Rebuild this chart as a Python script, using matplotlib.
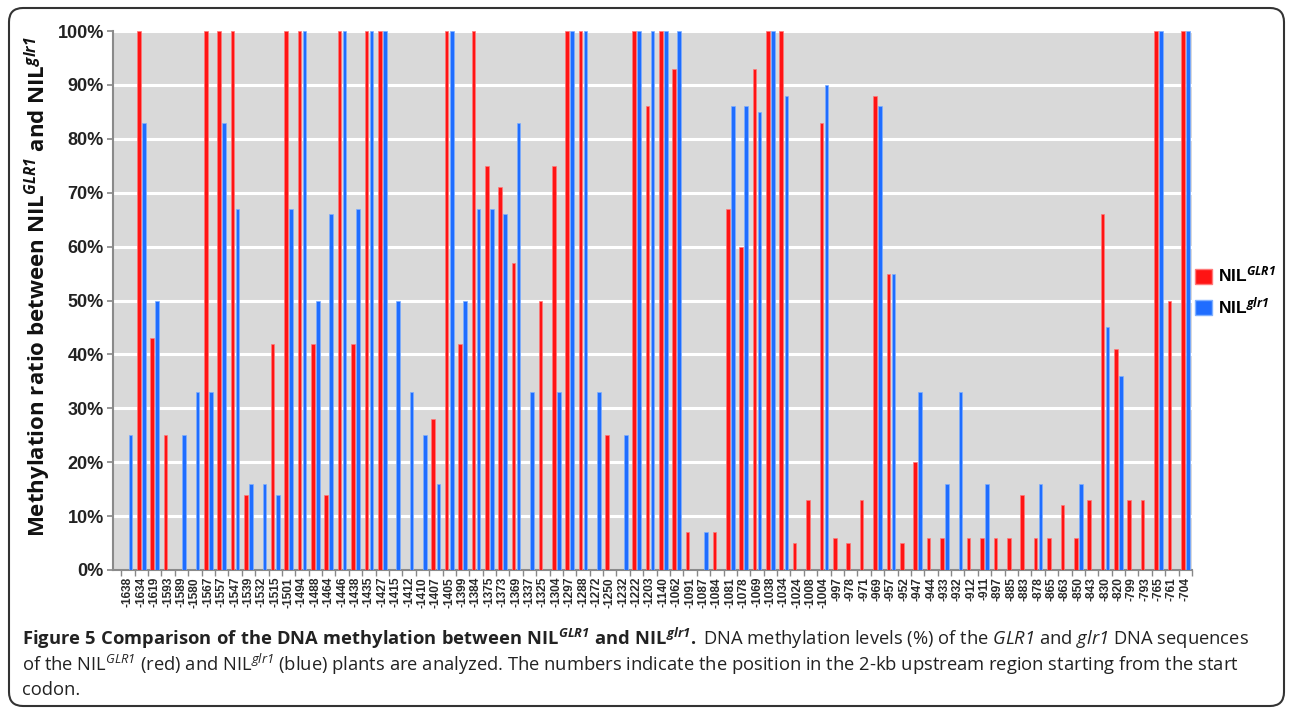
import numpy as np
import matplotlib
matplotlib.use("Agg")
import matplotlib.pyplot as plt
from matplotlib.patches import FancyBboxPatch, Patch
from matplotlib.transforms import IdentityTransform

positions = [-1638, -1634, -1619, -1593, -1589, -1580, -1567, -1557, -1547, -1539,
             -1532, -1515, -1501, -1494, -1488, -1464, -1446, -1438, -1435, -1427,
             -1415, -1412, -1410, -1407, -1405, -1399, -1384, -1375, -1373, -1369,
             -1337, -1325, -1304, -1297, -1288, -1272, -1250, -1232, -1222, -1203,
             -1140, -1062, -1091, -1087, -1084, -1081, -1078, -1069, -1038, -1034,
             -1024, -1008, -1004, -997, -978, -971, -969, -957, -952, -947,
             -944, -933, -932, -912, -911, -897, -885, -883, -878, -865,
             -863, -850, -843, -830, -820, -799, -793, -765, -761, -704]

nil_GLR1 = [0, 100, 43, 25, 0, 0, 100, 100, 100, 14,
            0, 42, 100, 100, 42, 14, 100, 42, 100, 100,
            0, 0, 0, 28, 100, 42, 100, 75, 71, 57,
            0, 50, 75, 100, 100, 0, 25, 0, 100, 86,
            100, 93, 7, 0, 7, 67, 60, 93, 100, 100,
            5, 13, 83, 6, 5, 13, 88, 55, 5, 20,
            6, 6, 0, 6, 6, 6, 6, 14, 6, 6,
            12, 6, 13, 66, 41, 13, 13, 100, 50, 100]

nil_glr1 = [25, 83, 50, 0, 25, 33, 33, 83, 67, 16,
            16, 14, 67, 100, 50, 66, 100, 67, 100, 100,
            50, 33, 25, 16, 100, 50, 67, 67, 66, 83,
            33, 0, 33, 100, 100, 33, 0, 25, 100, 100,
            100, 100, 0, 7, 0, 86, 86, 85, 100, 88,
            0, 0, 90, 0, 0, 0, 86, 55, 0, 33,
            0, 16, 33, 0, 16, 0, 0, 0, 16, 0,
            0, 16, 0, 45, 36, 0, 0, 100, 0, 100]

y_ticks = [0, 10, 20, 30, 40, 50, 60, 70, 80, 90, 100]

RED = "#ff1414"
BLUE = "#1f6dff"

plt.rcParams["mathtext.fontset"] = "custom"
plt.rcParams["mathtext.rm"] = "Open Sans"
plt.rcParams["mathtext.it"] = "Open Sans:italic"
plt.rcParams["mathtext.sf"] = "Open Sans:italic"
plt.rcParams["mathtext.bf"] = "Open Sans:bold"
try:
    plt.rcParams["mathtext.bfit"] = "Open Sans:italic:bold"
    BFIT = r"\mathbfit"
except KeyError:
    BFIT = r"\mathit"

fig = plt.figure(figsize=(12.9, 7.08), dpi=100)
W, H = 1290, 708
left, right, top, bottom = 113, 1192, 31, 570
ax = fig.add_axes([left / W, 1 - bottom / H, (right - left) / W, (bottom - top) / H])
ax.set_facecolor("#d9d9d9")

x = np.arange(len(positions))
off = 0.19
bw = 0.27
ax.bar(x - off, nil_GLR1, width=bw, color=RED, edgecolor="#ff7a7a", linewidth=0.5, zorder=3)
ax.bar(x + off, nil_glr1, width=bw, color=BLUE, edgecolor="#7fb0ff", linewidth=0.5, zorder=3)

ax.set_xlim(-1.12, len(positions) - 0.5)
ax.set_ylim(0, 100)
ax.set_yticks(y_ticks)
ax.set_yticklabels([f"{v}%" for v in y_ticks], fontfamily="Liberation Sans",
                   fontweight="bold", fontsize=13, color="#222222")
ax.yaxis.grid(True, color="white", linewidth=2.2, zorder=1)
ax.set_axisbelow(True)

ax.set_xticks(x)
ax.set_xticklabels([str(p) for p in positions], rotation=90, fontfamily="Liberation Sans",
                   fontweight="bold", fontsize=8.6, color="#2a2a2a", va="top")
ax.set_xticks(np.arange(len(positions) + 1) - 0.5, minor=True)
ax.tick_params(axis="x", which="major", length=0, pad=5)
ax.tick_params(axis="x", which="minor", length=4, color="#888888", width=1)
ax.tick_params(axis="y", which="major", length=4, color="#888888", width=1.2, pad=2.5)

for s in ["top", "right"]:
    ax.spines[s].set_visible(False)
for s in ["left", "bottom"]:
    ax.spines[s].set_color("#8a8a8a")
    ax.spines[s].set_linewidth(1.5)

ax.set_ylabel(r"Methylation ratio between NIL$^{" + BFIT + r"{GLR1}}$ and NIL$^{" + BFIT + r"{glr1}}$",
              fontfamily="Open Sans", fontweight="bold", fontsize=16, color="#111111")
ax.yaxis.set_label_coords(-0.0555, 0.525)

handles = [Patch(facecolor=RED, edgecolor="#ff7a7a"), Patch(facecolor=BLUE, edgecolor="#7fb0ff")]
labels = [r"NIL$^{" + BFIT + r"{GLR1}}$", r"NIL$^{" + BFIT + r"{glr1}}$"]
fig.legend(handles, labels, loc="upper left", bbox_to_anchor=(1195 / W, 1 - 266 / H),
           frameon=False, prop={"family": "Liberation Sans", "weight": "bold", "size": 12.5},
           handlelength=1.0, handleheight=1.0, handletextpad=0.35, labelspacing=0.6,
           borderaxespad=0, borderpad=0)

# caption
cap_font = dict(fontfamily="Open Sans", fontsize=13.2, color="#222222", transform=fig.transFigure)
line1 = (r"$\mathbf{Figure\ 5\ Comparison\ of\ the\ DNA\ methylation\ between\ NIL}^{" + BFIT +
         r"{GLR1}}\mathbf{\ and\ NIL}^{" + BFIT + r"{glr1}}\mathbf{.}$"
         r" DNA methylation levels (%) of the $\mathsf{GLR1}$ and $\mathsf{glr1}$ DNA sequences")
line2 = (r"of the NIL$^{\mathsf{GLR1}}$ (red) and NIL$^{\mathsf{glr1}}$ (blue) plants are analyzed. "
         r"The numbers indicate the position in the 2-kb upstream region starting from the start")
line3 = "codon."
fig.text(22 / W, 1 - 638 / H, line1, va="center", ha="left", **cap_font)
fig.text(22 / W, 1 - 664 / H, line2, va="center", ha="left", **cap_font)
fig.text(22 / W, 1 - 690 / H, line3, va="center", ha="left", **cap_font)

box = FancyBboxPatch((9, 2), 1284 - 9, 700 - 2, boxstyle="round,pad=0,rounding_size=14",
                     transform=IdentityTransform(), fill=False, edgecolor="#333333",
                     linewidth=1.5, figure=fig)
fig.patches.append(box)

fig.savefig("out.png", dpi=100)
